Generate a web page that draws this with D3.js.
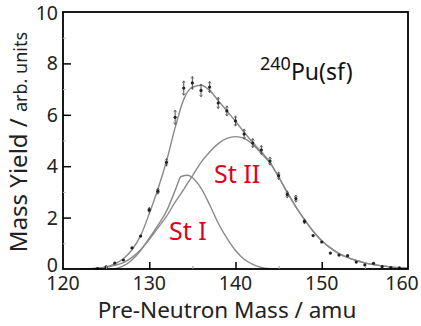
<!DOCTYPE html>
<html>
<head>
<meta charset="utf-8">
<script src="https://cdn.jsdelivr.net/npm/d3@7"></script>
<style>
  body { margin: 0; background: #fff; }
  text { font-family: "Noto Sans", "Open Sans", sans-serif; }
</style>
</head>
<body>
<div id="plot"></div>
<script>
// measured points (mass, yield, error)
var pointMass = [124, 125, 126, 127, 128, 129, 130, 131, 132, 133, 134, 135, 136, 137, 138, 139, 140, 141,
                 142, 143, 144, 145, 146, 147, 148, 149, 150, 151, 152, 153, 154, 155, 156, 157, 158, 159];
var pointYield = [0.02, 0.08, 0.23, 0.35, 0.82, 1.28, 2.3, 3.03, 4.15, 5.9, 7.04, 7.24, 6.95, 7.08, 6.46, 6.15, 5.76, 5.25,
                  4.9, 4.63, 4.2, 3.63, 2.9, 2.74, 1.85, 1.3, 1.05, 0.62, 0.54, 0.52, 0.27, 0.16, 0.22, 0.09, 0.05, 0.04];
var pointErr = [0, 0, 0, 0, 0, 0, 0.1, 0.12, 0.15, 0.28, 0.28, 0.25, 0.25, 0.22, 0.22, 0.2, 0.2, 0.2,
                0.18, 0.18, 0.16, 0.15, 0.14, 0.14, 0.1, 0, 0, 0, 0, 0, 0, 0, 0, 0, 0, 0];

// fitted curves
var totalMass = [122, 124, 125, 126, 127, 128, 129, 130, 131, 132, 133, 134, 135, 136, 137, 138, 139, 140, 141, 142,
                 143, 144, 145, 146, 147, 148, 149, 150, 151, 152, 153, 154, 155, 156, 157, 158, 159, 160];
var totalYield = [0, 0.03, 0.08, 0.2, 0.4, 0.75, 1.3, 2.15, 3.1, 4.2, 5.5, 6.6, 7.08, 7.15, 6.95, 6.55, 6.15, 5.75, 5.32, 4.92,
                  4.55, 4.15, 3.58, 2.98, 2.42, 1.92, 1.47, 1.1, 0.82, 0.6, 0.45, 0.33, 0.24, 0.17, 0.12, 0.08, 0.05, 0.03];

var st1Mass = [126, 127, 128, 129, 130, 131, 132, 133, 133.7, 134.5, 135, 136, 137, 138, 139, 140, 141, 142, 143, 144];
var st1Yield = [0, 0.12, 0.35, 0.72, 1.2, 1.7, 2.25, 3.05, 3.6, 3.65, 3.55, 3.15, 2.5, 1.78, 1.2, 0.72, 0.38, 0.18, 0.06, 0.01];

var st2Mass = [122, 124, 125, 126, 127, 128, 129, 130, 131, 132, 133, 134, 135, 136, 137, 138, 139, 140, 141, 142,
               143, 144, 145, 146, 147, 148, 149, 150, 151, 152, 153, 154, 155, 156, 157, 158, 159, 160];
var st2Yield = [0, 0.03, 0.07, 0.14, 0.25, 0.45, 0.75, 1.15, 1.6, 2.05, 2.6, 3.1, 3.62, 4.15, 4.55, 4.88, 5.08, 5.15, 5.08, 4.85,
                4.5, 4.12, 3.58, 2.98, 2.42, 1.92, 1.47, 1.1, 0.82, 0.6, 0.45, 0.33, 0.24, 0.17, 0.12, 0.08, 0.05, 0.03];

var xTicks = [120, 130, 140, 150, 160];
var xMinor = [125, 135, 145, 155];
var yTicks = [0, 2, 4, 6, 8, 10];
var yMinor = [1, 3, 5, 7, 9];

var w = 421, h = 326;
var padL = 63, padR = 408, padT = 12, padB = 269;

var svg = d3.select("#plot")
    .append("svg")
    .attr("width", w)
    .attr("height", h);

var xScale = d3.scaleLinear().domain([120, 160]).range([padL, padR]);
var yScale = d3.scaleLinear().domain([0, 10]).range([padB, padT]);

var line = d3.line()
    .x(function (d) { return xScale(d[0]); })
    .y(function (d) { return yScale(d[1]); })
    .curve(d3.curveMonotoneX);

function pairs(a, b) { return a.map(function (v, i) { return [v, b[i]]; }); }

// curves
[[st1Mass, st1Yield], [st2Mass, st2Yield], [totalMass, totalYield]].forEach(function (c) {
    svg.append("path")
        .attr("d", line(pairs(c[0], c[1])))
        .attr("fill", "none")
        .attr("stroke", "#8a8a8a")
        .attr("stroke-width", 1.4);
});

// error bars
var pts = pointMass.map(function (m, i) { return { m: m, y: pointYield[i], e: pointErr[i] }; });
var eb = svg.selectAll(".err").data(pts.filter(function (d) { return d.e > 0; })).enter().append("g");
eb.append("line")
    .attr("x1", function (d) { return xScale(d.m); })
    .attr("x2", function (d) { return xScale(d.m); })
    .attr("y1", function (d) { return yScale(d.y - d.e); })
    .attr("y2", function (d) { return yScale(d.y + d.e); })
    .attr("stroke", "#555").attr("stroke-width", 1);
eb.append("path")
    .attr("d", function (d) {
        var x = xScale(d.m), y1 = yScale(d.y + d.e), y2 = yScale(d.y - d.e);
        return "M" + (x - 1.5) + "," + (y1 + 2) + "L" + x + "," + y1 + "L" + (x + 1.5) + "," + (y1 + 2) +
               "M" + (x - 1.5) + "," + (y2 - 2) + "L" + x + "," + y2 + "L" + (x + 1.5) + "," + (y2 - 2);
    })
    .attr("fill", "none").attr("stroke", "#555").attr("stroke-width", 0.8);

svg.selectAll(".pt").data(pts).enter().append("circle")
    .attr("cx", function (d) { return xScale(d.m); })
    .attr("cy", function (d) { return yScale(d.y); })
    .attr("r", 1.6)
    .attr("fill", "#222");

// frame
svg.append("rect")
    .attr("x", padL).attr("y", padT)
    .attr("width", padR - padL).attr("height", padB - padT)
    .attr("fill", "none").attr("stroke", "#000").attr("stroke-width", 1.8);

// inward ticks
var xAxis = d3.axisBottom(xScale).tickValues(xTicks.slice(1, -1)).tickSize(-7).tickFormat("");
svg.append("g").attr("transform", "translate(0," + padB + ")").call(xAxis)
    .call(function (g) { g.select(".domain").remove(); g.selectAll("line").attr("stroke-width", 1.5); });
var xAxisMinor = d3.axisBottom(xScale).tickValues(xMinor).tickSize(-3).tickFormat("");
svg.append("g").attr("transform", "translate(0," + padB + ")").call(xAxisMinor)
    .call(function (g) { g.select(".domain").remove(); g.selectAll("line").attr("stroke", "#999"); });

var yAxis = d3.axisLeft(yScale).tickValues(yTicks.slice(1, -1)).tickSize(-8).tickFormat("");
svg.append("g").attr("transform", "translate(" + padL + ",0)").call(yAxis)
    .call(function (g) { g.select(".domain").remove(); g.selectAll("line").attr("stroke-width", 1.5); });
var yAxisMinor = d3.axisLeft(yScale).tickValues(yMinor).tickSize(-3).tickFormat("");
svg.append("g").attr("transform", "translate(" + padL + ",0)").call(yAxisMinor)
    .call(function (g) { g.select(".domain").remove(); g.selectAll("line").attr("stroke", "#bbb"); });

// tick labels
svg.selectAll(".xl").data(xTicks).enter().append("text")
    .attr("x", function (d) { return Math.min(xScale(d), w - 19); })
    .attr("y", padB + 21)
    .attr("text-anchor", "middle")
    .attr("font-size", 19.5)
    .attr("fill", "#222")
    .text(function (d) { return d; });

svg.selectAll(".yl").data(yTicks).enter().append("text")
    .attr("x", padL - 5)
    .attr("y", function (d) { return yScale(d) + (d === 0 ? 3 : (d === 10 ? 8 : 7)); })
    .attr("text-anchor", "end")
    .attr("font-size", 19.5)
    .attr("fill", "#222")
    .text(function (d) { return d; });

// axis titles
svg.append("text")
    .attr("x", 227).attr("y", 318)
    .attr("text-anchor", "middle")
    .attr("font-size", 22.5)
    .attr("fill", "#222")
    .text("Pre-Neutron Mass / amu");

var yt = svg.append("text")
    .attr("transform", "translate(27,142) rotate(-90)")
    .attr("text-anchor", "middle")
    .attr("fill", "#222");
yt.append("tspan").attr("font-size", 24).text("Mass Yield / ");
yt.append("tspan").attr("font-size", 18).text("arb. units");

// annotations
var pu = svg.append("text").attr("x", 260).attr("y", 80).attr("fill", "#111");
pu.append("tspan").attr("font-size", 18).attr("dy", -10).text("240");
pu.append("tspan").attr("font-size", 23).attr("dy", 10).text("Pu(sf)");

svg.append("text").attr("x", 214).attr("y", 183)
    .attr("font-size", 25).attr("fill", "#e3001b").text("St II");
svg.append("text").attr("x", 169).attr("y", 240)
    .attr("font-size", 25).attr("fill", "#e3001b").text("St I");
</script>
</body>
</html>
